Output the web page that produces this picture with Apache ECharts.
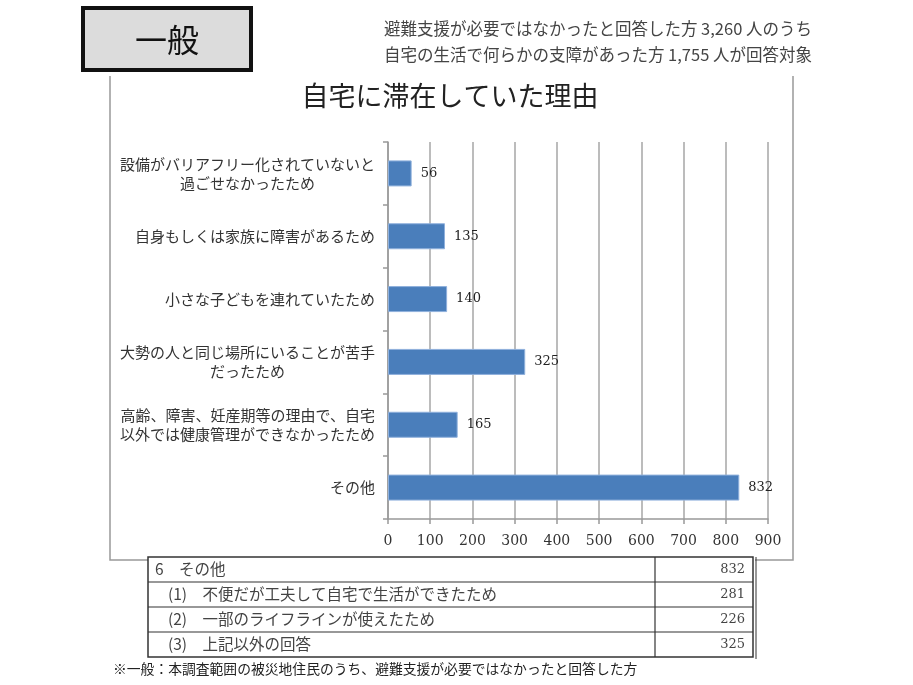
<!DOCTYPE html>
<html>
<head>
<meta charset="utf-8">
<script src="https://cdn.jsdelivr.net/npm/echarts@6/dist/echarts.min.js"></script>
<style>
  html, body { margin: 0; padding: 0; background: #fff; }
  #main { width: 913px; height: 685px; }
</style>
</head>
<body>
<div id="main"></div>
<script>
// 自宅に滞在していた理由（一般）
var categories = [
    '設備がバリアフリー化されていないと\n過ごせなかったため',
    '自身もしくは家族に障害があるため',
    '小さな子どもを連れていたため',
    '大勢の人と同じ場所にいることが苦手\nだったため',
    '高齢、障害、妊産期等の理由で、自宅\n以外では健康管理ができなかったため',
    'その他'
];
var counts = [56, 135, 140, 325, 165, 832];
var xTicks = [0, 100, 200, 300, 400, 500, 600, 700, 800, 900];

// 「その他」の内訳表
var tableLabels = ['6　その他', '(1)　不便だが工夫して自宅で生活ができたため', '(2)　一部のライフラインが使えたため', '(3)　上記以外の回答'];
var tableValues = [832, 281, 226, 325];

var headLines = [
    '避難支援が必要ではなかったと回答した方 3,260 人のうち',
    '自宅の生活で何らかの支障があった方 1,755 人が回答対象'
];
var footNote = '※一般：本調査範囲の被災地住民のうち、避難支援が必要ではなかったと回答した方';

var jp = '"Noto Sans CJK JP", sans-serif';
var serif = '"DejaVu Serif", serif';
var labelSize = 15;

var myChart = echarts.init(document.getElementById('main'));

// wrapped labels: lines are right-aligned, so pad short lines on the right to centre them
var labelRich = {
    c: { fontFamily: jp, fontSize: labelSize, lineHeight: 19, color: '#333' }
};
categories.forEach(function (cat, i) {
    var lines = cat.split('\n');
    if (lines.length < 2) return;
    var full = Math.max.apply(null, lines.map(function (s) { return s.length; })) * labelSize;
    lines.forEach(function (s, j) {
        labelRich['p' + i + '_' + j] = {
            fontFamily: jp, fontSize: labelSize, lineHeight: 19, color: '#333',
            padding: [0, Math.round((full - s.length * labelSize) / 2), 0, 0]
        };
    });
});

// table graphics
var tbl = { x: 148, y: 557, w: 605, rowH: 25, colX: 655 };
var tableGraphics = [];
tableGraphics.push({
    type: 'rect',
    shape: { x: tbl.x, y: tbl.y, width: tbl.w, height: tbl.rowH * tableLabels.length },
    style: { fill: '#fff', stroke: '#333', lineWidth: 1.5 }
});
tableGraphics.push({
    type: 'line',
    shape: { x1: tbl.x + tbl.w + 3, y1: tbl.y, x2: tbl.x + tbl.w + 3, y2: tbl.y + tbl.rowH * tableLabels.length + 2 },
    style: { stroke: '#333', lineWidth: 1 }
});
tableGraphics.push({
    type: 'line',
    shape: { x1: tbl.colX, y1: tbl.y, x2: tbl.colX, y2: tbl.y + tbl.rowH * tableLabels.length },
    style: { stroke: '#333', lineWidth: 1.2 }
});
tableLabels.forEach(function (lab, i) {
    var cy = tbl.y + tbl.rowH * i + tbl.rowH / 2;
    if (i > 0) {
        tableGraphics.push({
            type: 'line',
            shape: { x1: tbl.x, y1: tbl.y + tbl.rowH * i, x2: tbl.x + tbl.w, y2: tbl.y + tbl.rowH * i },
            style: { stroke: '#333', lineWidth: 1.2 }
        });
    }
    tableGraphics.push({
        type: 'text',
        style: {
            x: i === 0 ? tbl.x + 7 : tbl.x + 20, y: cy,
            text: lab, textVerticalAlign: 'middle', verticalAlign: 'middle',
            font: '15.5px ' + jp, fill: '#444'
        }
    });
    tableGraphics.push({
        type: 'text',
        style: {
            x: tbl.x + tbl.w - 8, y: cy,
            text: String(tableValues[i]), textAlign: 'right', align: 'right',
            verticalAlign: 'middle', textVerticalAlign: 'middle',
            font: '13px ' + serif, fill: '#444'
        }
    });
});

option = {
    backgroundColor: '#fff',
    animation: false,
    grid: {
        left: 388,
        right: 145,
        top: 142,
        bottom: 166
    },
    xAxis: {
        type: 'value',
        min: 0,
        max: 900,
        interval: 100,
        axisLine: {
            show: true,
            lineStyle: { color: '#999', width: 1.5 }
        },
        axisTick: {
            show: true,
            length: 5,
            lineStyle: { color: '#999', width: 1.5 }
        },
        axisLabel: {
            margin: 15,
            fontFamily: serif,
            fontSize: 14,
            color: '#333',
            formatter: function (v) { return xTicks.indexOf(v) >= 0 ? String(v) : ''; }
        },
        splitLine: {
            show: true,
            lineStyle: { color: '#a6a6a6', width: 1.5 }
        }
    },
    yAxis: {
        type: 'category',
        inverse: true,
        data: categories,
        axisLine: {
            show: true,
            lineStyle: { color: '#999', width: 1.5 }
        },
        axisTick: {
            show: true,
            length: 5,
            lineStyle: { color: '#999', width: 1.5 }
        },
        axisLabel: {
            margin: 13,
            align: 'right',
            color: '#333',
            formatter: function (v, idx) {
                return v.split('\n').map(function (s, j) {
                    var key = labelRich['p' + idx + '_' + j] ? 'p' + idx + '_' + j : 'c';
                    return '{' + key + '|' + s + '}';
                }).join('\n');
            },
            rich: labelRich
        }
    },
    series: [
        {
            name: '回答数',
            type: 'bar',
            data: counts,
            barWidth: 26,
            itemStyle: {
                color: '#4a7ebb',
                borderColor: '#8fb0dc',
                borderWidth: 1
            },
            label: {
                show: true,
                position: 'right',
                distance: 9,
                fontFamily: serif,
                fontSize: 13,
                color: '#222'
            }
        }
    ],
    graphic: [
        // 一般 box
        {
            type: 'rect',
            shape: { x: 83, y: 8, width: 168, height: 62 },
            style: { fill: '#dcdcdc', stroke: '#111', lineWidth: 4 }
        },
        {
            type: 'text',
            style: {
                x: 167, y: 40, text: '一般',
                textAlign: 'center', align: 'center', verticalAlign: 'middle', textVerticalAlign: 'middle',
                font: '32px ' + jp, fill: '#111'
            }
        },
        // header note
        {
            type: 'text',
            style: {
                x: 812, y: 29, text: headLines[0],
                textAlign: 'right', align: 'right', verticalAlign: 'middle', textVerticalAlign: 'middle',
                font: '16.5px ' + jp, fill: '#444'
            }
        },
        {
            type: 'text',
            style: {
                x: 812, y: 55, text: headLines[1],
                textAlign: 'right', align: 'right', verticalAlign: 'middle', textVerticalAlign: 'middle',
                font: '16.5px ' + jp, fill: '#444'
            }
        },
        // chart title
        {
            type: 'text',
            style: {
                x: 450, y: 96, text: '自宅に滞在していた理由',
                textAlign: 'center', align: 'center', verticalAlign: 'middle', textVerticalAlign: 'middle',
                font: '27px ' + jp, fill: '#222'
            }
        },
        // chart frame (open at top)
        {
            type: 'polyline',
            shape: { points: [[150, 560], [110, 560], [110, 76]] },
            style: { stroke: '#999', lineWidth: 1.5, fill: null }
        },
        {
            type: 'polyline',
            shape: { points: [[793, 76], [793, 560], [755, 560]] },
            style: { stroke: '#999', lineWidth: 1.5, fill: null }
        },
        // footnote
        {
            type: 'text',
            style: {
                x: 113, y: 669, text: footNote,
                verticalAlign: 'middle', textVerticalAlign: 'middle',
                font: '13.8px ' + jp, fill: '#222'
            }
        }
    ].concat(tableGraphics)
};
myChart.setOption(option);
</script>
</body>
</html>
